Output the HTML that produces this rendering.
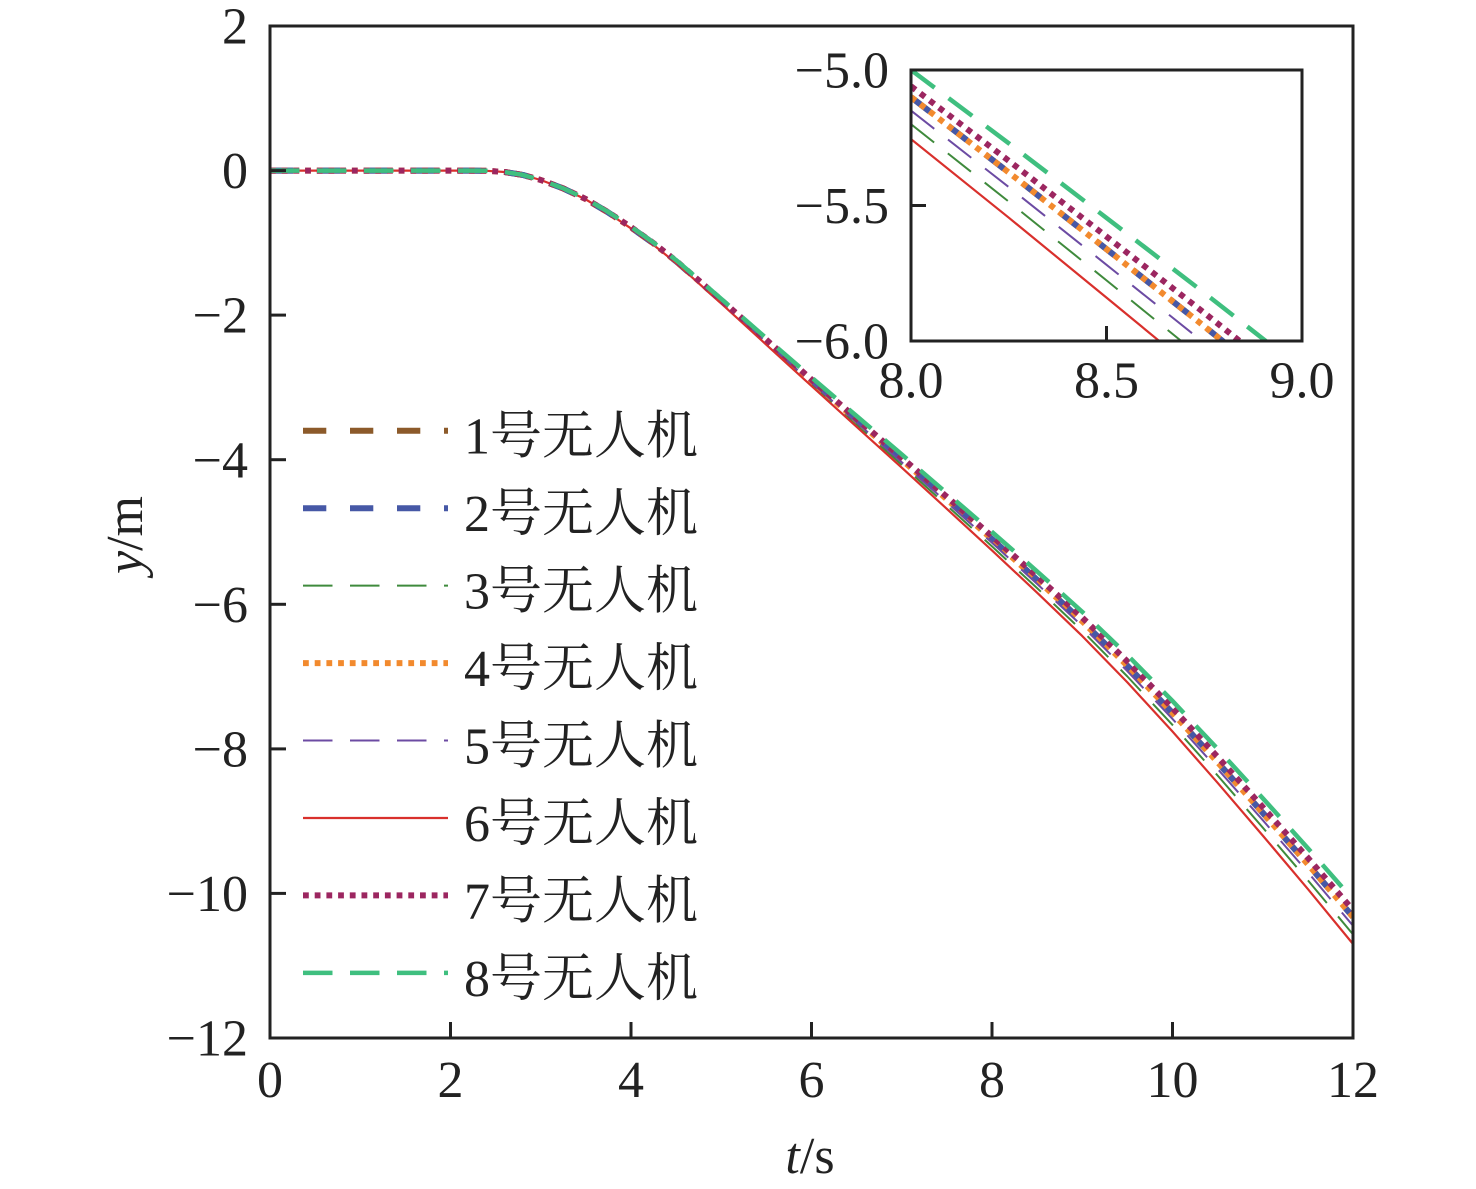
<!DOCTYPE html>
<html>
<head>
<meta charset="utf-8">
<style>
  html,body{margin:0;padding:0;background:#fff;}
  svg{display:block;}
</style>
</head>
<body>
<svg width="1476" height="1189" viewBox="0 0 1476 1189" xmlns="http://www.w3.org/2000/svg" font-family="'Liberation Serif','Noto Serif CJK SC',serif" font-size="52" fill="#222">
  <defs>
    <clipPath id="cm"><rect x="270" y="26" width="1083" height="1012"/></clipPath>
    <clipPath id="ci"><rect x="911" y="70" width="391" height="271"/></clipPath>
  </defs>
  <rect x="0" y="0" width="1476" height="1189" fill="#fff"/>

  <!-- main series -->
  <g clip-path="url(#cm)" fill="none" stroke-linejoin="round">
    <!-- 1 brown -->
    <path stroke="#8c5a2a" stroke-width="6" stroke-dasharray="23.3 23.7" d="M270,170.6 L468.6,170.6 L486.6,170.8 L504.7,172.0 L522.7,174.9 L540.8,180.0 L563.3,188.5 L585.9,199.2 L608.4,212.6 L631,227.4 L653.6,243.6 L676.1,261.3 L721.3,300.8 L766.4,340.8 L811.5,380.8 L856.6,420.2 L901.8,459.7 L946.9,499.3 L992,539.2 L1037.1,579.8 L1082.3,621.4 L1127.4,665.8 L1172.5,712.9 L1217.6,762.2 L1262.8,812.9 L1307.9,864.3 L1353,916.9"/>
    <!-- 2 blue -->
    <path stroke="#4658a6" stroke-width="6" stroke-dasharray="23.3 23.7" d="M270,170.6 L468.6,170.6 L486.6,170.8 L504.7,172.0 L522.7,174.9 L540.8,180.0 L563.3,188.5 L585.9,199.2 L608.4,212.6 L631,227.4 L653.6,243.6 L676.1,261.3 L721.3,300.8 L766.4,340.8 L811.5,380.8 L856.6,420.2 L901.8,459.7 L946.9,499.3 L992,539.2 L1037.1,579.8 L1082.3,621.4 L1127.4,665.8 L1172.5,712.9 L1217.6,762.2 L1262.8,812.9 L1307.9,864.3 L1353,916.9"/>
    <!-- 3 green thin -->
    <path stroke="#3f8a3c" stroke-width="2" stroke-dasharray="29.5 17.5" d="M270,170.6 L468.6,170.6 L486.6,170.8 L504.7,172.0 L522.7,174.9 L540.8,180.0 L563.3,188.6 L585.9,199.4 L608.4,213.0 L631,228.0 L653.6,244.5 L676.1,262.5 L721.3,302.6 L766.4,343.4 L811.5,384.1 L856.6,424.5 L901.8,464.9 L946.9,505.5 L992,546.4 L1037.1,588.1 L1082.3,630.9 L1127.4,676.5 L1172.5,724.9 L1217.6,775.5 L1262.8,827.6 L1307.9,880.3 L1353,934.4"/>
    <!-- 4 orange dotted -->
    <path stroke="#f28a2e" stroke-width="6" stroke-dasharray="5.8 5.9" d="M270,170.6 L468.6,170.6 L486.6,170.8 L504.7,172.0 L522.7,174.9 L540.8,180.0 L563.3,188.5 L585.9,199.2 L608.4,212.6 L631,227.4 L653.6,243.6 L676.1,261.3 L721.3,300.8 L766.4,340.8 L811.5,380.8 L856.6,420.2 L901.8,459.7 L946.9,499.3 L992,539.2 L1037.1,579.8 L1082.3,621.4 L1127.4,665.8 L1172.5,712.9 L1217.6,762.2 L1262.8,812.9 L1307.9,864.3 L1353,916.9"/>
    <!-- 5 purple thin -->
    <path stroke="#6c4ba3" stroke-width="2" stroke-dasharray="29.5 17.5" d="M270,170.6 L468.6,170.6 L486.6,170.8 L504.7,172.0 L522.7,174.9 L540.8,180.0 L563.3,188.5 L585.9,199.3 L608.4,212.8 L631,227.7 L653.6,244.1 L676.1,261.9 L721.3,301.7 L766.4,342.1 L811.5,382.5 L856.6,422.4 L901.8,462.3 L946.9,502.4 L992,542.8 L1037.1,583.9 L1082.3,626.1 L1127.4,671.2 L1172.5,718.9 L1217.6,768.9 L1262.8,820.2 L1307.9,872.3 L1353,925.7"/>
    <!-- 6 red solid -->
    <path stroke="#d9302c" stroke-width="2.2" d="M270,170.6 L468.6,170.6 L486.6,170.8 L504.7,172.0 L522.7,174.9 L540.8,180.0 L563.3,188.6 L585.9,199.5 L608.4,213.2 L631,228.4 L653.6,245.0 L676.1,263.1 L721.3,303.6 L766.4,344.8 L811.5,386.0 L856.6,426.8 L901.8,467.7 L946.9,508.9 L992,550.4 L1037.1,592.7 L1082.3,636.1 L1127.4,682.4 L1172.5,731.5 L1217.6,782.8 L1262.8,835.6 L1307.9,889.1 L1353,944.0"/>
    <!-- 7 maroon dotted -->
    <path stroke="#9c2660" stroke-width="6" stroke-dasharray="5.8 5.9" d="M270,170.6 L468.6,170.6 L486.6,170.8 L504.7,172.0 L522.7,174.9 L540.8,180.0 L563.3,188.4 L585.9,199.1 L608.4,212.4 L631,227.1 L653.6,243.2 L676.1,260.8 L721.3,300.0 L766.4,339.8 L811.5,379.5 L856.6,418.5 L901.8,457.6 L946.9,496.9 L992,536.3 L1037.1,576.4 L1082.3,617.6 L1127.4,661.5 L1172.5,708.2 L1217.6,756.9 L1262.8,807.1 L1307.9,857.9 L1353,910.0"/>
    <!-- 8 green dashed -->
    <path stroke="#3fbf7f" stroke-width="4.5" stroke-dasharray="29.5 17.5" d="M270,170.6 L468.6,170.6 L486.6,170.8 L504.7,172.0 L522.7,174.9 L540.8,180.0 L563.3,188.4 L585.9,198.9 L608.4,212.1 L631,226.8 L653.6,242.7 L676.1,260.1 L721.3,298.9 L766.4,338.3 L811.5,377.4 L856.6,416.0 L901.8,454.5 L946.9,493.2 L992,532.0 L1037.1,571.4 L1082.3,611.9 L1127.4,655.1 L1172.5,701.0 L1217.6,748.9 L1262.8,798.3 L1307.9,848.2 L1353,899.5"/>
  </g>

  <!-- main frame -->
  <rect x="270" y="26" width="1083" height="1012" fill="none" stroke="#222" stroke-width="3"/>
  <g stroke="#222" stroke-width="3">
    <line x1="270" y1="170.6" x2="286" y2="170.6"/>
    <line x1="270" y1="315.1" x2="286" y2="315.1"/>
    <line x1="270" y1="459.7" x2="286" y2="459.7"/>
    <line x1="270" y1="604.3" x2="286" y2="604.3"/>
    <line x1="270" y1="748.9" x2="286" y2="748.9"/>
    <line x1="270" y1="893.4" x2="286" y2="893.4"/>
    <line x1="450.5" y1="1038" x2="450.5" y2="1022"/>
    <line x1="631" y1="1038" x2="631" y2="1022"/>
    <line x1="811.5" y1="1038" x2="811.5" y2="1022"/>
    <line x1="992" y1="1038" x2="992" y2="1022"/>
    <line x1="1172.5" y1="1038" x2="1172.5" y2="1022"/>
  </g>

  <!-- y tick labels -->
  <g text-anchor="end">
    <text x="248" y="43.6">2</text>
    <text x="248" y="188.2">0</text>
    <text x="248" y="332.7">−2</text>
    <text x="248" y="477.3">−4</text>
    <text x="248" y="621.9">−6</text>
    <text x="248" y="766.5">−8</text>
    <text x="248" y="911">−10</text>
    <text x="248" y="1055.6">−12</text>
  </g>
  <!-- x tick labels -->
  <g text-anchor="middle">
    <text x="270" y="1097">0</text>
    <text x="450.5" y="1097">2</text>
    <text x="631" y="1097">4</text>
    <text x="811.5" y="1097">6</text>
    <text x="992" y="1097">8</text>
    <text x="1172.5" y="1097">10</text>
    <text x="1353" y="1097">12</text>
  </g>
  <!-- axis labels -->
  <text x="810" y="1173" text-anchor="middle"><tspan font-style="italic">t</tspan>/s</text>
  <text transform="translate(142,535) rotate(-90)" text-anchor="middle"><tspan font-style="italic">y</tspan>/m</text>

  <!-- legend lines -->
  <g fill="none">
    <line x1="303" y1="430.7" x2="448" y2="430.7" stroke="#8c5a2a" stroke-width="6" stroke-dasharray="23.3 23.7"/>
    <line x1="303" y1="508.2" x2="448" y2="508.2" stroke="#4658a6" stroke-width="6" stroke-dasharray="23.3 23.7"/>
    <line x1="303" y1="585.6" x2="448" y2="585.6" stroke="#3f8a3c" stroke-width="2" stroke-dasharray="29.5 17.5"/>
    <line x1="303" y1="663.1" x2="448" y2="663.1" stroke="#f28a2e" stroke-width="6" stroke-dasharray="5.8 5.9"/>
    <line x1="303" y1="740.5" x2="448" y2="740.5" stroke="#6c4ba3" stroke-width="2" stroke-dasharray="29.5 17.5"/>
    <line x1="303" y1="818" x2="448" y2="818" stroke="#d9302c" stroke-width="2.2"/>
    <line x1="303" y1="895.4" x2="448" y2="895.4" stroke="#9c2660" stroke-width="6" stroke-dasharray="5.8 5.9"/>
    <line x1="303" y1="972.9" x2="448" y2="972.9" stroke="#3fbf7f" stroke-width="4.5" stroke-dasharray="29.5 17.5"/>
  </g>
  <g>
    <text x="464" y="453.7">1号无人机</text>
    <text x="464" y="531.2">2号无人机</text>
    <text x="464" y="608.6">3号无人机</text>
    <text x="464" y="686.1">4号无人机</text>
    <text x="464" y="763.5">5号无人机</text>
    <text x="464" y="841">6号无人机</text>
    <text x="464" y="918.4">7号无人机</text>
    <text x="464" y="995.9">8号无人机</text>
  </g>

  <!-- inset -->
  <rect x="911" y="70" width="391" height="271" fill="#fff"/>
  <g clip-path="url(#ci)" fill="none" stroke-linejoin="round">
    <path stroke="#8c5a2a" stroke-width="6" stroke-dasharray="23.3 23.7" d="M911,97.1 L1008.8,172.5 L1106.5,249.1 L1204.3,326.3 L1302,405.0"/>
    <path stroke="#4658a6" stroke-width="6" stroke-dasharray="23.3 23.7" d="M911,97.1 L1008.8,172.5 L1106.5,249.1 L1204.3,326.3 L1302,405.0"/>
    <path stroke="#3f8a3c" stroke-width="2" stroke-dasharray="29.5 17.5" d="M911,124.2 L1008.8,201.7 L1106.5,280.4 L1204.3,359.7 L1302,440.6"/>
    <path stroke="#f28a2e" stroke-width="6" stroke-dasharray="5.8 5.9" d="M911,97.1 L1008.8,172.5 L1106.5,249.1 L1204.3,326.3 L1302,405.0"/>
    <path stroke="#6c4ba3" stroke-width="2" stroke-dasharray="29.5 17.5" d="M911,110.6 L1008.8,187.1 L1106.5,264.8 L1204.3,343.0 L1302,422.8"/>
    <path stroke="#d9302c" stroke-width="2.2" d="M911,139.1 L1008.8,217.7 L1106.5,297.6 L1204.3,378.1 L1302,460.2"/>
    <path stroke="#9c2660" stroke-width="6" stroke-dasharray="5.8 5.9" d="M911,86.3 L1008.8,160.8 L1106.5,236.6 L1204.3,312.9 L1302,390.7"/>
    <path stroke="#3fbf7f" stroke-width="4.5" stroke-dasharray="29.5 17.5" d="M911,70.0 L1008.8,143.3 L1106.5,217.9 L1204.3,292.9 L1302,369.4"/>
  </g>
  <rect x="911" y="70" width="391" height="271" fill="none" stroke="#222" stroke-width="3"/>
  <g stroke="#222" stroke-width="3">
    <line x1="911" y1="205.5" x2="926" y2="205.5"/>
    <line x1="1106.5" y1="341" x2="1106.5" y2="326"/>
  </g>
  <g text-anchor="end">
    <text x="889" y="87.6">−5.0</text>
    <text x="889" y="223.1">−5.5</text>
    <text x="889" y="358.6">−6.0</text>
  </g>
  <g text-anchor="middle">
    <text x="911" y="397.6">8.0</text>
    <text x="1106.5" y="397.6">8.5</text>
    <text x="1302" y="397.6">9.0</text>
  </g>
</svg>
</body>
</html>
